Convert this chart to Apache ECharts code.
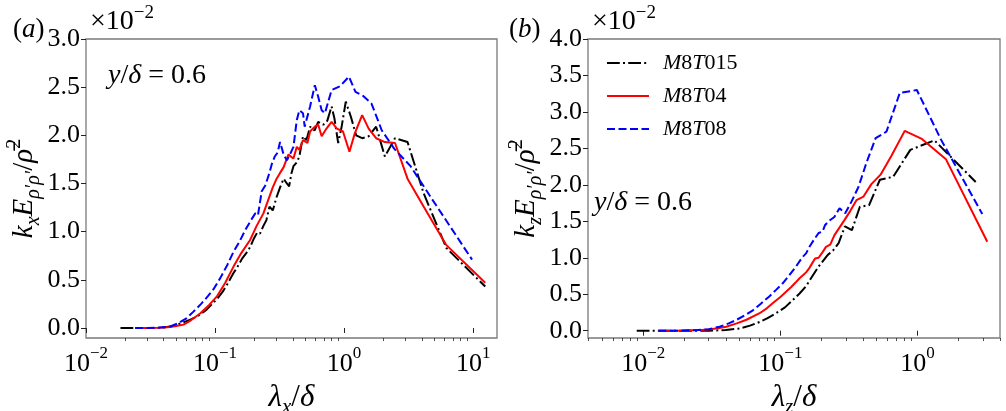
<!DOCTYPE html>
<html><head><meta charset="utf-8">
<script src="https://cdn.jsdelivr.net/npm/echarts@6/dist/echarts.min.js"></script>
<style>html,body{margin:0;padding:0;background:#fff}#c{width:1006px;height:411px}</style>
</head><body><div id="c"></div>
<script>
// ---- Panel (a): lambda_x / delta vs k_x E / rho^2 (x 1e-2) ----
const lxK = [0.0185,0.022,0.027,0.033,0.04,0.047,0.055,0.065,0.075,0.086,0.095,0.105,0.115,0.125,0.139,0.15,0.162,0.175,0.187,0.2,0.212,0.223,0.237,0.25,0.264,0.28,0.3,0.319,0.34,0.36,0.375,0.39,0.405,0.43,0.45,0.48,0.51,0.545,0.59,0.63,0.69,0.74,0.8,0.84,0.9,0.96,1.03,1.13,1.24,1.38,1.55,1.77,2.07,2.48,3.1,4.13,6.2,12.4];
const lyK = [0,0,0,0,0.005,0.02,0.05,0.09,0.13,0.19,0.25,0.31,0.38,0.46,0.57,0.64,0.72,0.78,0.84,0.93,0.99,0.98,1.06,1.12,1.26,1.22,1.36,1.46,1.55,1.50,1.47,1.60,1.68,1.72,1.78,1.99,1.95,2.09,2.05,2.14,2.11,2.15,2.30,2.18,1.92,2.10,2.35,2.19,2.00,1.97,1.99,2.09,1.78,1.97,1.93,1.40,0.83,0.43];
const lxR = [0.024,0.03,0.037,0.045,0.05,0.057,0.065,0.077,0.09,0.103,0.12,0.139,0.16,0.187,0.21,0.237,0.26,0.28,0.3,0.319,0.34,0.37,0.405,0.43,0.45,0.48,0.52,0.545,0.593,0.63,0.67,0.73,0.8,0.88,0.98,1.1,1.21,1.38,1.55,1.77,2.07,2.48,3.1,4.13,6.2,12.4];
const lyR = [0,0,0.002,0.01,0.02,0.035,0.08,0.153,0.24,0.325,0.47,0.637,0.78,0.914,1.06,1.19,1.34,1.46,1.55,1.61,1.67,1.80,1.76,1.88,1.85,1.95,1.92,2.04,2.09,2.11,1.99,2.07,2.14,2.07,2.04,1.83,2.02,2.21,2.07,1.97,1.93,1.92,1.55,1.26,0.86,0.47];
const lxB = [0.024,0.03,0.037,0.045,0.052,0.06,0.068,0.078,0.088,0.097,0.11,0.125,0.139,0.155,0.172,0.19,0.205,0.215,0.23,0.245,0.264,0.275,0.29,0.305,0.319,0.34,0.36,0.38,0.405,0.43,0.45,0.48,0.495,0.545,0.593,0.63,0.67,0.71,0.8,0.93,1.09,1.225,1.4,1.63,1.96,2.45,3.27,4.9,9.8];
const lyB = [0,0,0.004,0.015,0.05,0.10,0.17,0.25,0.33,0.40,0.52,0.66,0.79,0.90,1.02,1.12,1.19,1.17,1.42,1.48,1.61,1.70,1.78,1.82,1.93,1.80,1.74,1.80,1.88,2.16,2.26,2.23,2.09,2.30,2.52,2.40,2.26,2.23,2.47,2.51,2.61,2.45,2.41,2.33,2.05,1.86,1.68,1.32,0.71];

// ---- Panel (b): lambda_z / delta vs k_z E / rho^2 (x 1e-2) ----
const rxK = [0.00895,0.0125,0.02,0.03,0.04,0.0506,0.06,0.0706,0.08,0.093,0.108,0.123,0.138,0.154,0.17,0.19,0.2217,0.242,0.266,0.2956,0.3325,0.38,0.443,0.532,0.665,0.887,1.33,2.66];
const ryK = [0,0,0,0,0.01,0.03,0.07,0.12,0.17,0.24,0.32,0.42,0.51,0.61,0.74,0.88,1.04,1.10,1.20,1.43,1.38,1.70,1.72,2.07,2.11,2.48,2.61,2.04];
const rxR = [0.0129,0.016,0.02,0.025,0.03,0.035,0.0403,0.048,0.0566,0.0706,0.08,0.0882,0.101,0.111,0.12,0.129,0.138,0.146,0.154,0.1615,0.17,0.179,0.19,0.202,0.215,0.231,0.248,0.269,0.294,0.323,0.359,0.404,0.461,0.538,0.646,0.8075,1.077,1.615,3.23];
const ryR = [0,0,0.002,0.008,0.018,0.035,0.055,0.10,0.15,0.24,0.31,0.38,0.47,0.54,0.60,0.66,0.72,0.76,0.80,0.85,0.92,0.99,1.00,1.07,1.15,1.18,1.31,1.41,1.52,1.64,1.79,1.84,2.01,2.14,2.40,2.74,2.63,2.35,1.22];
const rxB = [0.0129,0.016,0.02,0.025,0.03,0.036,0.042,0.048,0.055,0.063,0.072,0.083,0.093,0.104,0.116,0.13,0.145,0.154,0.163,0.176,0.19,0.203,0.212,0.228,0.2475,0.27,0.297,0.33,0.371,0.424,0.495,0.594,0.743,0.99,1.485,2.97];
const ryB = [0,0,0.002,0.01,0.02,0.055,0.10,0.15,0.21,0.28,0.37,0.47,0.56,0.65,0.76,0.88,1.01,1.06,1.15,1.25,1.34,1.36,1.45,1.51,1.56,1.68,1.61,1.77,1.97,2.30,2.64,2.73,3.26,3.30,2.62,1.60];

const seriesNames = ['M8T015','M8T04','M8T08'];

// ---- ticks ----
const yTicksA = [0,0.5,1.0,1.5,2.0,2.5,3.0];
const yTicksB = [0,0.5,1.0,1.5,2.0,2.5,3.0,3.5,4.0];
const xMajorA = [0.01,0.1,1,10];
const xMinorA = [0.02,0.03,0.04,0.05,0.06,0.07,0.08,0.09,0.2,0.3,0.4,0.5,0.6,0.7,0.8,0.9,2,3,4,5,6,7,8,9];
const xMajorB = [0.01,0.1,1];
const xMinorB = [0.004,0.005,0.006,0.007,0.008,0.009,0.02,0.03,0.04,0.05,0.06,0.07,0.08,0.09,0.2,0.3,0.4,0.5,0.6,0.7,0.8,0.9,2,3,4];

const FONT = 'Liberation Serif, DejaVu Serif, serif';
const FRAME = '#7a7a7a';
const zip = (a, b) => a.map((v, i) => [v, b[i]]);

const supRich = {
  b: {fontFamily: FONT, fontSize: 26, color: '#000', lineHeight: 32, verticalAlign: 'bottom'},
  s: {fontFamily: FONT, fontSize: 17, color: '#000', lineHeight: 17, verticalAlign: 'top'}
};
function powLabel(v) {
  const e = Math.round(Math.log10(v));
  return '{b|10}{s|' + (e < 0 ? '\u2212' + (-e) : String(e)) + '}';
}
function mathRich(size) {
  const s2 = Math.round(size * 0.68);
  return {
    i: {fontFamily: FONT, fontStyle: 'italic', fontSize: size, color: '#000', lineHeight: size + 10, verticalAlign: 'middle'},
    n: {fontFamily: FONT, fontSize: size, color: '#000', lineHeight: size + 10, verticalAlign: 'middle'},
    sb: {fontFamily: FONT, fontStyle: 'italic', fontSize: s2, color: '#000', lineHeight: s2, verticalAlign: 'bottom'},
    sp: {fontFamily: FONT, fontSize: s2, color: '#000', lineHeight: s2, verticalAlign: 'top'}
  };
}

function majorX(grid, min, max, vals) {
  return {
    type: 'log', logBase: 10, gridIndex: grid, min: min, max: max, position: 'bottom',
    axisLine: {show: false}, splitLine: {show: false},
    axisTick: {show: true, inside: false, length: 5, customValues: vals, lineStyle: {color: '#222', width: 1}},
    axisLabel: {show: true, margin: 7, customValues: vals, formatter: powLabel, rich: supRich},
    nameLocation: 'middle', nameGap: 36,
    nameTextStyle: {rich: mathRich(31)}
  };
}
function minorX(grid, min, max, vals) {
  return {
    type: 'log', logBase: 10, gridIndex: grid, min: min, max: max, position: 'bottom',
    axisLine: {show: false}, splitLine: {show: false}, axisLabel: {show: false},
    axisTick: {show: true, inside: false, length: 3, customValues: vals, lineStyle: {color: '#222', width: 0.8}}
  };
}
function yAx(grid, min, max, vals, name) {
  return {
    type: 'value', gridIndex: grid, min: min, max: max,
    axisLine: {show: false}, splitLine: {show: false},
    axisTick: {show: true, inside: false, length: 5, customValues: vals, lineStyle: {color: '#222', width: 1}},
    axisLabel: {show: true, margin: 6, customValues: vals, formatter: v => v.toFixed(1),
      fontFamily: FONT, fontSize: 26, color: '#000'},
    name: name, nameLocation: 'middle', nameRotate: 90, nameGap: 40,
    nameTextStyle: {rich: mathRich(29)}
  };
}

const styles = [
  {color: '#000000', type: [12.8, 3.2, 2, 3.2]},
  {color: '#ff0000', type: 'solid'},
  {color: '#0000ff', type: [8, 3.5]}
];
function mk(name, xi, yi, x, y, k) {
  return {
    name: name, type: 'line', xAxisIndex: xi, yAxisIndex: yi, data: zip(x, y),
    showSymbol: false, symbol: 'none', smooth: false, clip: true,
    lineStyle: {width: 2, color: styles[k].color, type: styles[k].type},
    itemStyle: {color: styles[k].color}, z: 3 + k
  };
}

const chart = echarts.init(document.getElementById('c'), null, {renderer: 'canvas'});
const xA = majorX(0, 0.01, 15.3, xMajorA);
xA.name = '{i|λ}{sb|x}{n|/}{i|δ}';
const xB = majorX(1, 0.00395, 4.0, xMajorB);
xB.name = '{i|λ}{sb|z}{n|/}{i|δ}';

const mathT = (t, l, top, size) => ({type: 'text', left: l, top: top, z: 10,
  style: {text: t, rich: mathRich(size), fill: '#000'}});
const offT = (l, top) => ({type: 'text', left: l, top: top, z: 10,
  style: {text: '{x|\u00d710}{s|\u22122}', fill: '#000', rich: {
    x: {fontFamily: FONT, fontSize: 28, lineHeight: 32, verticalAlign: 'bottom'},
    s: {fontFamily: FONT, fontSize: 19, lineHeight: 19, verticalAlign: 'top'}}}});

chart.setOption({
  animation: false,
  backgroundColor: '#fff',
  grid: [
    {left: 86, top: 39, width: 411, height: 299, show: true, borderColor: FRAME, borderWidth: 1.3,
     backgroundColor: 'transparent', containLabel: false, outerBoundsMode: 'none'},
    {left: 588, top: 39, width: 412, height: 299, show: true, borderColor: FRAME, borderWidth: 1.3,
     backgroundColor: 'transparent', containLabel: false, outerBoundsMode: 'none'}
  ],
  xAxis: [xA, minorX(0, 0.01, 15.3, xMinorA), xB, minorX(1, 0.00395, 4.0, xMinorB)],
  yAxis: [
    yAx(0, -0.104, 3.0, yTicksA, '{i|k}{sb|x}{i|E}{sb|ρ′ρ′}{n|/}{i|ρ̄}{sp|2}'),
    yAx(1, -0.1, 4.0, yTicksB, '{i|k}{sb|z}{i|E}{sb|ρ′ρ′}{n|/}{i|ρ̄}{sp|2}')
  ],
  legend: {
    show: true, data: seriesNames, orient: 'vertical', left: 606, top: 52, padding: 0,
    itemWidth: 42, itemHeight: 20, itemGap: 11,
    itemStyle: {color: 'transparent', borderColor: 'transparent', borderWidth: 0},
    textStyle: {padding: [0, 0, 0, 9], rich: mathRich(22)},
    formatter: n => '{i|M}{n|8}{i|T}{n|' + n.slice(3) + '}'
  },
  graphic: [
    mathT('{n|(}{i|a}{n|)}', 13, 16, 27),
    mathT('{n|(}{i|b}{n|)}', 509, 16, 27),
    offT(90, 4), offT(592, 4),
    mathT('{i|y}{n|/}{i|δ}{n| = 0.6}', 108, 62, 28),
    mathT('{i|y}{n|/}{i|δ}{n| = 0.6}', 594, 189, 28)
  ],
  series: [
    mk(seriesNames[0], 0, 0, lxK, lyK, 0),
    mk(seriesNames[1], 0, 0, lxR, lyR, 1),
    mk(seriesNames[2], 0, 0, lxB, lyB, 2),
    mk(seriesNames[0], 2, 1, rxK, ryK, 0),
    mk(seriesNames[1], 2, 1, rxR, ryR, 1),
    mk(seriesNames[2], 2, 1, rxB, ryB, 2)
  ]
});
</script></body></html>
